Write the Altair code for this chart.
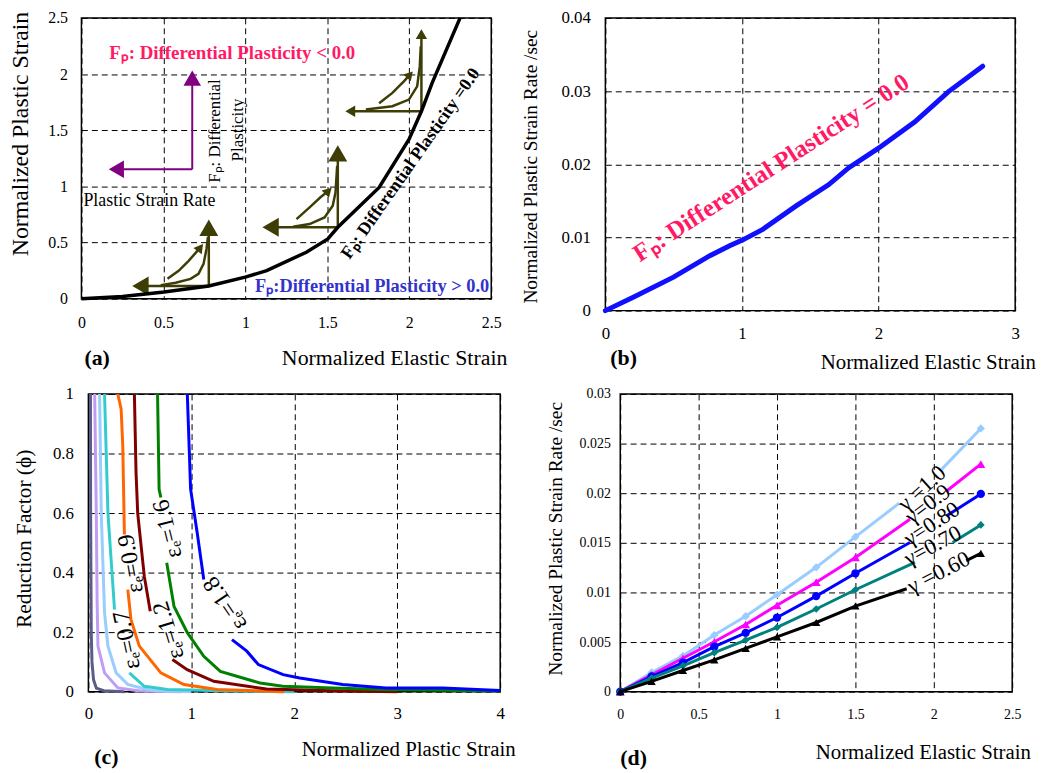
import altair as alt
import pandas as pd

SERIF = "Liberation Serif"
OLIVE = "#3d3d05"
PURPLE = "#800080"
PINK = "#ff1a66"
one = pd.DataFrame({"k": [0]})

# ---------------- panel (a) data ----------------
a_curve_x = [0, 0.25, 0.504, 0.777, 0.999, 1.13, 1.372, 1.503, 1.564, 1.816, 1.998, 2.074, 2.139, 2.31]
a_curve_y = [0, 0.02, 0.059, 0.113, 0.192, 0.25, 0.414, 0.532, 0.636, 0.99, 1.418, 1.669, 1.92, 2.5]

# arrow shafts / curved arrows (x list, y list)
a_arrow_paths = {
    "g1h": ([0.777, 0.36], [0.113, 0.113]),
    "g1v": ([0.777, 0.777], [0.113, 0.632]),
    "g1c": ([0.525, 0.593, 0.654, 0.702, 0.725], [0.177, 0.248, 0.337, 0.417, 0.455]),
    "g1i": ([0.484, 0.575, 0.666, 0.714, 0.745, 0.763, 0.772], [0.121, 0.142, 0.177, 0.222, 0.310, 0.443, 0.550]),
    "g2h": ([1.564, 1.154], [0.636, 0.636]),
    "g2v": ([1.564, 1.564], [0.636, 1.294]),
    "g2c": ([1.312, 1.392, 1.46, 1.507], [0.709, 0.813, 0.905, 0.960]),
    "g2i": ([1.291, 1.392, 1.483, 1.533, 1.550, 1.560], [0.641, 0.665, 0.724, 0.827, 0.946, 1.182]),
    "g3h": ([2.074, 1.640], [1.669, 1.669]),
    "g3v": ([2.074, 2.074], [1.669, 2.355]),
    "g3c": ([1.816, 1.897, 1.967, 2.004], [1.741, 1.832, 1.935, 1.995]),
    "g3i": ([1.735, 1.897, 1.998, 2.048, 2.064, 2.070], [1.684, 1.714, 1.773, 1.891, 2.068, 2.246]),
}
a_purple_paths = {
    "pv": ([0.676, 0.676], [1.152, 1.964]),
    "ph": ([0.676, 0.213], [1.152, 1.152]),
}
# arrow heads: x, y, angle, size, colour
a_head_x = [0.36, 0.777, 0.725, 1.154, 1.564, 1.507, 1.640, 2.074, 2.004, 0.213, 0.676]
a_head_y = [0.113, 0.632, 0.455, 0.636, 1.294, 0.960, 1.669, 2.355, 1.995, 1.152, 1.964]
a_head_ang = [270, 0, 37, 270, 0, 45, 270, 0, 42, 270, 0]
a_head_size = [361, 361, 110, 361, 361, 110, 130, 130, 100, 310, 310]
a_head_col = [OLIVE] * 9 + [PURPLE] * 2

# ---------------- panel (b) data ----------------
b_x = [0, 0.208, 0.499, 0.765, 0.91, 1.007, 1.152, 1.394, 1.636, 1.78, 2.0, 2.266, 2.51, 2.762]
b_y = [0, 0.00186, 0.00457, 0.0075, 0.00885, 0.00967, 0.0111, 0.01428, 0.01722, 0.0195, 0.0222, 0.0258, 0.0299, 0.0334]

# ---------------- panel (c) data ----------------
c_series = [
    ("#5c5c8a", [[(0.02, 1.0), (0.022, 0.6), (0.028, 0.2), (0.035, 0.1), (0.05, 0.04), (0.077, 0.012), (0.15, 0.003), (0.35, 0.0)]]),
    ("#c09cf5", [[(0.061, 1.0), (0.077, 0.6), (0.085, 0.3), (0.093, 0.153), (0.157, 0.063), (0.286, 0.0125), (0.5, 0.002), (0.9, 0.0)]]),
    ("#99ccff", [[(0.109, 1.0), (0.125, 0.6), (0.157, 0.265), (0.19, 0.153), (0.27, 0.063), (0.383, 0.024), (0.607, 0.004), (1.0, 0.0)]]),
    ("#33cccc", [[(0.157, 1.0), (0.19, 0.6), (0.254, 0.276)],
                 [(0.398, 0.063), (0.543, 0.018), (0.768, 0.007), (1.41, 0.002), (2.0, 0.0)]]),
    ("#ff6600", [[(0.286, 1.0), (0.318, 0.95), (0.334, 0.826), (0.35, 0.528)],
                 [(0.383, 0.343), (0.414, 0.242), (0.495, 0.153), (0.704, 0.063), (0.928, 0.024), (1.25, 0.007), (1.9, 0.0)]]),
    ("#800000", [[(0.447, 1.0), (0.463, 0.736), (0.479, 0.6), (0.543, 0.388), (0.601, 0.27)],
                 [(0.816, 0.108), (0.96, 0.074), (1.218, 0.035), (1.73, 0.009), (2.37, 0.003), (3.0, 0.0)]]),
    ("#008000", [[(0.672, 1.0), (0.687, 0.68), (0.704, 0.652)],
                 [(0.761, 0.433), (0.832, 0.286), (0.961, 0.198), (1.121, 0.119), (1.282, 0.068), (1.667, 0.029),
                  (1.89, 0.018), (2.37, 0.012), (2.86, 0.007), (4.0, 0.002)]]),
    ("#0000ff", [[(0.961, 1.0), (0.993, 0.68), (1.057, 0.534), (1.121, 0.377)],
                 [(1.395, 0.175), (1.539, 0.136), (1.651, 0.091), (1.892, 0.057), (2.053, 0.046), (2.47, 0.024),
                  (2.89, 0.0125), (3.44, 0.0125), (4.0, 0.004)]]),
]
c_labels = ["εₑ=0.7", "εₑ=0.9", "εₑ=1.2", "εₑ=1.6", "εₑ=1.8"]

# ---------------- panel (d) data ----------------
d_x = [0, 0.2, 0.4, 0.6, 0.8, 1.0, 1.25, 1.5, 2.3]
d_g10 = [0, 0.00193, 0.0036, 0.0057, 0.0076, 0.00977, 0.01253, 0.0156, 0.02653]
d_g09 = [0, 0.0017, 0.00337, 0.00503, 0.00677, 0.0087, 0.01103, 0.01353, 0.02293]
d_g08 = [0, 0.00153, 0.00293, 0.00453, 0.00593, 0.00747, 0.00963, 0.01193, 0.01993]
d_g07 = [0, 0.00137, 0.0026, 0.00393, 0.0052, 0.00647, 0.00833, 0.01027, 0.0168]
d_g06 = [0, 0.00103, 0.00213, 0.0032, 0.00437, 0.00553, 0.00697, 0.00863, 0.01393]
# where each line disappears behind / reappears after its label
d_gap = {
    "g10": ((1.78, 0.0190), (2.05, 0.0224)),
    "g09": ((1.848, 0.01737), (2.08, 0.0202)),
    "g08": ((1.848, 0.01503), (2.08, 0.0177)),
    "g07": ((1.88, 0.01303), (2.12, 0.01503)),
    "g06": ((1.827, 0.01037), (2.207, 0.0132)),
}
d_labels = ["γ =1.0", "γ=0.9", "γ=0.80", "γ=0.70", "γ =0.60"]


# ---------------- helpers ----------------
def txt(s, x, y, size, angle=0, bold=False, color="black", align="center"):
    return alt.Chart(one).mark_text(
        text=s, fontSize=size, angle=angle % 360, font=SERIF,
        fontWeight="bold" if bold else "normal", color=color, align=align, baseline="middle",
    ).encode(x=alt.value(x), y=alt.value(y))


def guide(x0, y0, x1, y1):
    # invisible element that fixes the layout bounds of a row
    return alt.Chart(one).mark_rule(strokeOpacity=0, opacity=0).encode(
        x=alt.value(x0), x2=alt.value(x1), y=alt.value(y0), y2=alt.value(y1))


def ax(values, pad, size):
    return alt.Axis(values=values, format="~g", labelPadding=pad, labelFontSize=size, title=None,
                    grid=True, ticks=False, domain=False, labelFlush=False, labelOverlap=False)


def enc_xy(xdom, xvals, xpad, xsize, ydom, yvals, ypad, ysize):
    X = alt.X("x:Q", scale=alt.Scale(domain=xdom, nice=False, zero=False), axis=ax(xvals, xpad, xsize))
    Y = alt.Y("y:Q", scale=alt.Scale(domain=ydom, nice=False, zero=False), axis=ax(yvals, ypad, ysize))
    return X, Y


def paths_df(paths):
    rows = []
    for g, (xs, ys) in paths.items():
        for i, (xv, yv) in enumerate(zip(xs, ys)):
            rows.append({"g": g, "o": i, "x": xv, "y": yv})
    return pd.DataFrame(rows)


# ---------------- panel (a) ----------------
XA, YA = enc_xy([0, 2.5], [0, 0.5, 1, 1.5, 2, 2.5], 16, 16, [0, 2.5], [0, 0.5, 1, 1.5, 2, 2.5], 14, 16)
a_curve = alt.Chart(pd.DataFrame({"x": a_curve_x, "y": a_curve_y})).mark_line(
    color="black", strokeWidth=3.5).encode(x=XA, y=YA)
a_arrows = alt.Chart(paths_df(a_arrow_paths)).mark_line(color=OLIVE, strokeWidth=2.5).encode(
    x=XA, y=YA, detail="g:N", order="o:Q")
a_purple = alt.Chart(paths_df(a_purple_paths)).mark_line(color=PURPLE, strokeWidth=2).encode(
    x=XA, y=YA, detail="g:N", order="o:Q")
a_heads = alt.Chart(pd.DataFrame({"x": a_head_x, "y": a_head_y, "ang": a_head_ang,
                                  "sz": a_head_size, "col": a_head_col})).mark_point(
    shape="triangle-up", filled=True, opacity=1).encode(
    x=XA, y=YA, angle=alt.Angle("ang:Q", scale=None), size=alt.Size("sz:Q", scale=None, legend=None),
    color=alt.Color("col:N", scale=None, legend=None))
panel_a = alt.layer(
    guide(-72, 0, -72, 361),
    a_arrows, a_purple, a_heads, a_curve,
    txt("Normalized Elastic Strain", 202, 343, 22, align="left"),
    txt("(a)", 3, 343, 22, bold=True, align="left"),
    txt("Normalized Plastic Strain", -60.5, 117, 24, angle=270),
    txt("Fₚ: Differential Plasticity < 0.0", 28, 35, 19, bold=True, color=PINK, align="left"),
    txt("Plastic Strain Rate", 2, 185, 18, align="left"),
    txt("Fₚ: Differential", 135, 114, 17, angle=270),
    txt("Plasticity", 158, 113, 17, angle=270),
    txt("Fₚ: Differential Plasticity =0.0", 332, 147, 18, angle=305, bold=True),
    txt("Fₚ:Differential Plasticity > 0.0", 175, 270, 18.5, bold=True, color="#3333cc", align="left"),
).properties(width=413, height=283)

# ---------------- panel (b) ----------------
XB, YB = enc_xy([0, 3], [0, 1, 2, 3], 15, 17, [0, 0.04], [0, 0.01, 0.02, 0.03, 0.04], 15, 17)
b_line = alt.Chart(pd.DataFrame({"x": b_x, "y": b_y})).mark_line(
    color="#1010ff", strokeWidth=5, strokeCap="round").encode(x=XB, y=YB)
panel_b = alt.layer(
    b_line,
    txt("Fₚ: Differential Plasticity = 0.0", 167, 151, 25, angle=327, bold=True, color=PINK),
    txt("Normalized Elastic Strain", 217, 348, 21, align="left"),
    txt("(b)", 5, 343, 22, bold=True, align="left"),
    txt("Normalized Plastic Strain Rate /sec", -75, 150, 19.5, angle=270),
).properties(width=413, height=295)

# ---------------- panel (c) ----------------
XC, YC = enc_xy([0, 4], [0, 1, 2, 3, 4], 14, 17, [0, 1], [0, 0.2, 0.4, 0.6, 0.8, 1], 15, 17)
c_layers = []
for col, segs in c_series:
    rows = []
    for si, seg in enumerate(segs):
        for i, (xv, yv) in enumerate(seg):
            rows.append({"s": si, "o": i, "x": xv, "y": yv})
    c_layers.append(alt.Chart(pd.DataFrame(rows)).mark_line(color=col, strokeWidth=3).encode(
        x=XC, y=YC, detail="s:N", order="o:Q"))
c_lab_pos = [(39, 248, 258), (43, 171, 260), (81, 238, 253), (80, 136, 256), (138, 211, 236)]
c_texts = [txt(s, px, py, 24, angle=an) for s, (px, py, an) in zip(c_labels, c_lab_pos)]
panel_c = alt.layer(
    guide(-79, -10, -79, 300),
    *c_layers, *c_texts,
    txt("Normalized Plastic Strain", 215, 359, 21, align="left"),
    txt("(c)", 6, 366, 22, bold=True, align="left"),
    txt("Reduction Factor (ϕ)", -64, 146, 21.5, angle=270),
).properties(width=415, height=300)

# ---------------- panel (d) ----------------
XD, YD = enc_xy([0, 2.5], [0, 0.5, 1, 1.5, 2, 2.5], 16, 14,
                [0, 0.03], [0, 0.005, 0.01, 0.015, 0.02, 0.025, 0.03], 10, 14)
d_series = [("g10", d_g10, "#99ccff", "diamond", 70),
            ("g09", d_g09, "#ff00ff", "triangle-up", 80),
            ("g08", d_g08, "#0000ff", "circle", 70),
            ("g07", d_g07, "#008080", "diamond", 60),
            ("g06", d_g06, "black", "triangle-up", 70)]
d_layers = []
for key, ys, col, shp, sz in d_series:
    (gx0, gy0), (gx1, gy1) = d_gap[key]
    seg1 = list(zip(d_x[:-1], ys[:-1])) + [(gx0, gy0)]
    seg2 = [(gx1, gy1), (d_x[-1], ys[-1])]
    rows = [{"s": 0, "o": i, "x": xv, "y": yv} for i, (xv, yv) in enumerate(seg1)]
    rows += [{"s": 1, "o": i, "x": xv, "y": yv} for i, (xv, yv) in enumerate(seg2)]
    d_layers.append(alt.Chart(pd.DataFrame(rows)).mark_line(color=col, strokeWidth=3).encode(
        x=XD, y=YD, detail="s:N", order="o:Q"))
    d_layers.append(alt.Chart(pd.DataFrame({"x": d_x, "y": ys})).mark_point(
        shape=shp, filled=True, color=col, size=sz, opacity=1).encode(x=XD, y=YD))
d_lab_pos = [(304, 95, 318), (310, 111, 323), (314, 131, 327), (315, 153, 332), (321, 180, 333)]
d_texts = [txt(s, px, py, 22.5, angle=an) for s, (px, py, an) in zip(d_labels, d_lab_pos)]
panel_d = alt.layer(
    *d_layers, *d_texts,
    txt("Normalized Elastic Strain", 197, 362, 21, align="left"),
    txt("(d)", 0, 367, 22, bold=True, align="left"),
    txt("Normalized Plastic Strain Rate /sec", -65, 146, 19.5, angle=270),
).properties(width=395, height=300)

spacer = alt.Chart(one).mark_point(opacity=0).encode(
    x=alt.X("k:Q", axis=None), y=alt.Y("k:Q", axis=None)
).properties(width=1, height=1, view=alt.ViewBackground(stroke="transparent"))

top = alt.hconcat(panel_a, panel_b, spacing=115, bounds="flush")
bottom_inner = alt.hconcat(panel_c, panel_d, spacing=121, bounds="flush")
bottom = alt.hconcat(spacer, bottom_inner, spacing=6, bounds="flush")

chart = alt.vconcat(top, bottom, spacing=6, bounds="full").properties(
    padding={"left": 0, "top": -3, "right": 0, "bottom": 0}, background="white"
).configure_view(stroke="black", strokeWidth=1.5).configure_axis(
    gridColor="black", gridDash=[6, 4], gridWidth=1, gridOpacity=1,
    labelFont=SERIF, labelColor="black"
)

chart.save("out.html", embed_options={"renderer": "svg", "actions": False})
